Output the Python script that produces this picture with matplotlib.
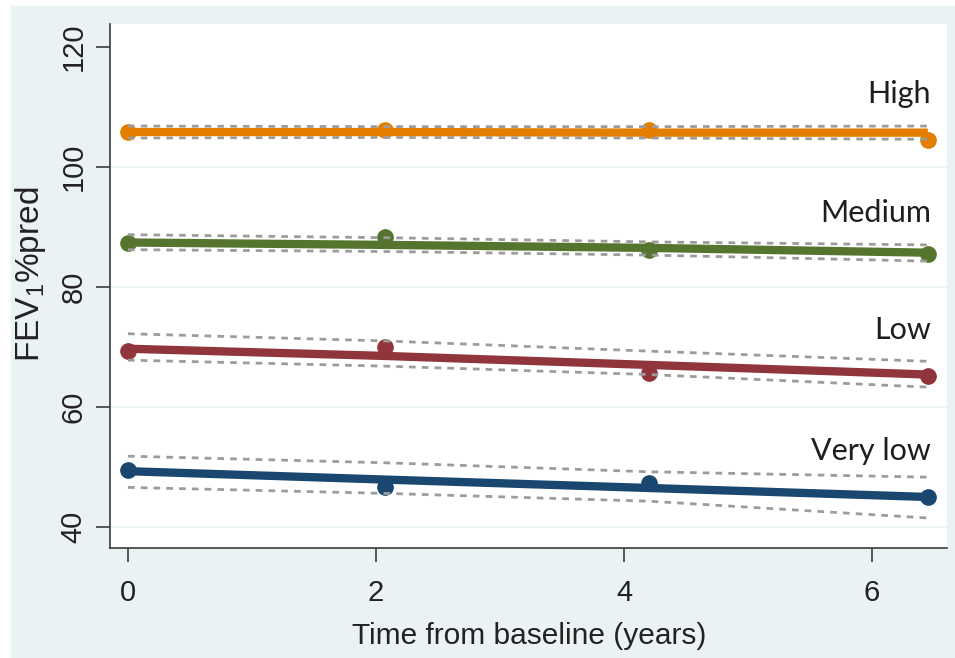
import matplotlib.pyplot as plt
from matplotlib.patches import Rectangle

plt.rcParams['font.family'] = ['Liberation Sans', 'DejaVu Sans']
plt.rcParams['mathtext.fontset'] = 'custom'
plt.rcParams['mathtext.rm'] = 'Liberation Sans'

# visit times (years from baseline)
times = [0, 2.07, 4.2, 6.45]

groups = ['High', 'Medium', 'Low', 'Very low']
colors = ['#E37E00', '#55752F', '#90353B', '#1A476F']

# observed mean FEV1 %pred
observed = {
    'High': [105.8, 106.1, 106.1, 104.5],
    'Medium': [87.3, 88.3, 86.2, 85.4],
    'Low': [69.4, 70.0, 65.6, 65.2],
    'Very low': [49.5, 46.7, 47.4, 45.0],
}
# fitted trajectory
fitted = {
    'High': [105.8, 105.8, 105.7, 105.7],
    'Medium': [87.4, 87.0, 86.5, 85.7],
    'Low': [69.7, 68.5, 67.0, 65.4],
    'Very low': [49.3, 47.9, 46.5, 45.0],
}
# 95% CI of fitted trajectory
ci_upper = {
    'High': [106.8, 106.7, 106.7, 106.8],
    'Medium': [88.7, 88.2, 87.5, 87.0],
    'Low': [72.2, 71.0, 69.3, 67.6],
    'Very low': [51.8, 50.7, 49.2, 48.3],
}
ci_lower = {
    'High': [104.8, 104.9, 104.8, 104.6],
    'Medium': [86.2, 85.9, 85.3, 84.3],
    'Low': [67.8, 66.8, 65.4, 63.3],
    'Very low': [46.6, 45.6, 44.3, 41.5],
}

label_y = {'High': 110.7, 'Medium': 90.8, 'Low': 71.3, 'Very low': 51.2}

fig = plt.figure(figsize=(9.55, 6.58), dpi=100, facecolor='white')
fig.patches.append(Rectangle((11 / 955, 0), 1 - 11 / 955, 1 - 6 / 658,
                             transform=fig.transFigure, color='#EAF2F3', zorder=-1))
ax = fig.add_axes([110 / 955, 1 - 548 / 658, (947 - 110) / 955, (548 - 24) / 658])
ax.set_facecolor('white')

for g, c in zip(groups, colors):
    ax.plot(times, observed[g], 'o', color=c, markersize=11, zorder=2)
    ax.plot(times, fitted[g], '-', color=c, linewidth=6, solid_capstyle='butt', zorder=3)
    for ci in (ci_upper[g], ci_lower[g]):
        ax.plot(times, ci, color='#9C9C9C', linewidth=2.0, dashes=(2.4, 2.2), zorder=4)
    ax.text(6.476, label_y[g], g, ha='right', va='baseline', fontsize=22,
            family=['Lato', 'DejaVu Sans'], color='#1E1E1E')

ax.set_xlim(-0.145, 6.605)
ax.set_ylim(36.5, 123.8)
ax.set_xticks([0, 2, 4, 6])
ax.set_yticks([40, 60, 80, 100, 120])
ax.yaxis.grid(True, color='#EAF2F3', linewidth=1.2)
ax.get_ygridlines()[-1].set_visible(False)
ax.set_axisbelow(True)

for s in ('top', 'right'):
    ax.spines[s].set_visible(False)
for s in ('left', 'bottom'):
    ax.spines[s].set_color('#3C3C3C')
    ax.spines[s].set_linewidth(1.2)

ax.tick_params(direction='out', length=10, width=1.2, color='#3C3C3C',
               labelsize=21, labelcolor='#222222')
ax.tick_params(axis='x', pad=12)
ax.tick_params(axis='y', pad=6)
for lab in ax.get_yticklabels():
    lab.set_rotation(90)
    lab.set_va('center')

fig.text(529 / 955, 1 - 636 / 658, 'Time from baseline (years)', ha='center', va='center',
         fontsize=21.5, color='#222222')
fig.text(30 / 955, 1 - 274 / 658, r'FEV$_{\mathregular{1}}$%pred', ha='center', va='center',
         rotation=90, fontsize=24, color='#222222')

fig.savefig('out.png', dpi=100, facecolor=fig.get_facecolor())
